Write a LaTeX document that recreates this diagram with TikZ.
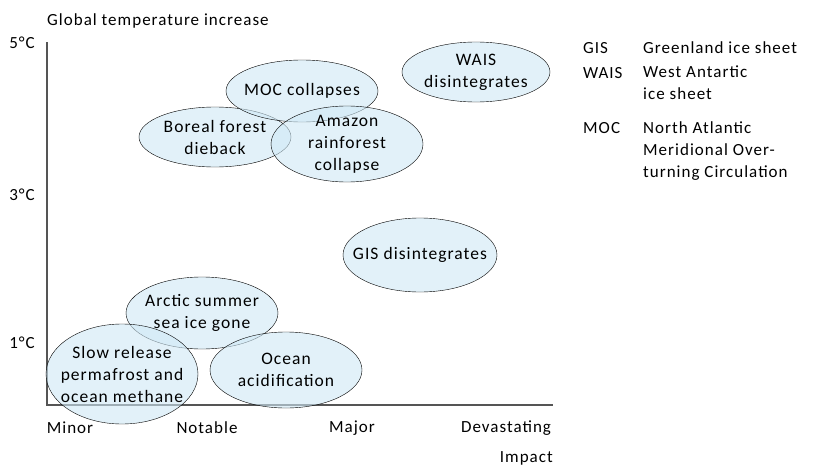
\documentclass[tikz,border=0pt]{standalone}
\usepackage{fontspec}
\setmainfont[LetterSpace=6]{Carlito}
\usetikzlibrary{shapes.geometric}

\definecolor{axisgray}{HTML}{555555}
\definecolor{icefill}{HTML}{CFE8F5}

\tikzset{
    tip/.style={ellipse,draw=black,thin,fill=icefill,fill opacity=0.6,text opacity=1,
        align=center,inner xsep=-30pt,inner ysep=-10pt},
    lbl/.style={inner sep=0pt,font=\fontsize{17}{22}\selectfont},
}

\begin{document}
\begin{tikzpicture}[x=1pt,y=-1pt,font=\fontsize{17.5}{22}\selectfont]
    
    % fix the page size
    \useasboundingbox (0,0) rectangle (815,466);
    
    \node[lbl,anchor=west] (title) at (47,21) {Global temperature increase};
    
    % draw axes
    \draw [axisgray,line width=1.3pt] (47,42) -- (47,405) -- (553,405);
    
    % temperature labels
    \foreach \t/\y in {5/43,3/195,1/343}
        \node[lbl] (t\t) at (22,\y) {\t°C};
    
    % impact labels
    \foreach \n/\w/\x in {minor/Minor/70,notable/Notable/207,major/Major/352,devastating/Devastating/506}
        \node[lbl] (\n) at (\x,428) {\w};
    \node[lbl,anchor=east] (impact) at (553,458) {Impact};
    
    % tipping elements
    \node[tip,minimum width=152pt,minimum height=60pt] (boreal) at (215,137) {Boreal forest\\dieback};
    \node[tip,minimum width=152pt,minimum height=62pt] (moc) at (302,91) {MOC collapses};
    \node[tip,minimum width=152pt,minimum height=76pt] (amazon) at (347,144) {Amazon\\rainforest\\collapse};
    \node[tip,minimum width=148pt,minimum height=60pt] (wais) at (476,72) {WAIS\\disintegrates};
    \node[tip,minimum width=154pt,minimum height=74pt] (gis) at (420,255) {GIS disintegrates};
    \node[tip,minimum width=152pt,minimum height=72pt] (arctic) at (202,313) {Arctic summer\\sea ice gone};
    \node[tip,minimum width=152pt,minimum height=100pt] (slow) at (122,374) {Slow release\\permafrost and\\ocean methane};
    \node[tip,minimum width=152pt,minimum height=76pt] (ocean) at (286,370) {Ocean\\acidification};
    
    % legend
    \foreach \n/\a/\y in {gis/GIS/48,wais/WAIS/73,moc/MOC/128}
        \node[lbl,anchor=west] (key\n) at (583,\y) {\a};
    \node[lbl,anchor=north west,align=left] (descgis) at (643,41) {Greenland ice sheet};
    \node[lbl,anchor=north west,align=left] (descwais) at (643,66) {West Antartic\\ice sheet};
    \node[lbl,anchor=north west,align=left] (descmoc) at (643,121) {North Atlantic\\Meridional Over-\\turning Circulation};
    
\end{tikzpicture}
\end{document}
